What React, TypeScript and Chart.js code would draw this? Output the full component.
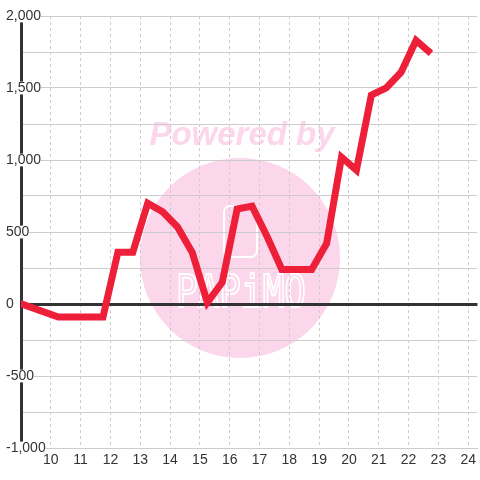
import React, { useEffect, useRef } from "react";
import { Chart, registerables } from "chart.js";

Chart.register(...registerables);

const xValues = [8.75, 10.25, 11.75, 12.25, 12.75, 13.25, 13.75, 14.25, 14.75, 15.25, 15.75, 16.25, 16.75, 17.25, 17.75, 18.25, 18.75, 19.25, 19.75, 20.25, 20.75, 21.25, 21.75, 22.25, 22.75];
const yValues = [20, -90, -90, 360, 360, 700, 640, 535, 355, 10, 150, 660, 680, 470, 240, 240, 240, 420, 1020, 930, 1450, 1500, 1610, 1830, 1740];

const xMin = 9;
const xMax = 24.31;
const yMin = -1000;
const yMax = 2000;
const yStep = 250;
const yLabelStep = 500;

const watermark = {
  id: "watermark",
  beforeDraw(chart: any) {
    const ctx = chart.ctx;
    ctx.save();
    ctx.fillStyle = "#fcd6ea";
    ctx.beginPath();
    ctx.arc(240, 258, 100, 0, Math.PI * 2);
    ctx.fill();
    ctx.font = 'italic bold 33px "Liberation Sans", Arial, sans-serif';
    ctx.textAlign = "center";
    ctx.textBaseline = "alphabetic";
    ctx.fillText("Powered by", 242, 145);
    ctx.strokeStyle = "#ffffff";
    ctx.lineWidth = 2;
    ctx.beginPath();
    (ctx as any).roundRect(224, 206, 33, 51, 6);
    ctx.stroke();
    ctx.lineWidth = 1.6;
    ctx.translate(241, 307);
    ctx.scale(1, 1.25);
    ctx.font = '36px "DejaVu Sans Mono", monospace';
    ctx.strokeText("PAPiMO", 0, 0);
    ctx.restore();
  },
};

export default function App() {
  const ref = useRef<HTMLCanvasElement | null>(null);
  useEffect(() => {
    if (!ref.current) return;
    const chart = new Chart(ref.current, {
      type: "line",
      data: {
        datasets: [
          {
            data: xValues.map((x, i) => ({ x, y: yValues[i] })),
            borderColor: "#ee2039",
            borderWidth: 7,
            pointRadius: 0,
            tension: 0,
            fill: false,
          },
        ],
      },
      options: {
        animation: false,
        responsive: true,
        maintainAspectRatio: false,
        layout: { padding: { top: 16, left: 0, right: 0, bottom: 0 } },
        plugins: { legend: { display: false }, tooltip: { enabled: false } },
        scales: {
          x: {
            type: "linear",
            min: xMin,
            max: xMax,
            afterFit: (s: any) => {
              s.height = 32;
            },
            ticks: {
              stepSize: 1,
              includeBounds: false,
              padding: 4,
              color: "#333",
              font: { family: '"Liberation Sans", Arial, sans-serif', size: 14 },
              callback: (v: any) => (v === xMin ? "" : String(v)),
              maxRotation: 0,
              autoSkip: false,
            },
            grid: { color: "#cccccc", lineWidth: 1, drawTicks: false },
            border: { color: "#cccccc", width: 1, dash: [3, 3] } as any,
          },
          y: {
            type: "linear",
            min: yMin,
            max: yMax,
            afterFit: (s: any) => {
              s.width = 21;
            },
            ticks: {
              stepSize: yStep,
              mirror: true,
              padding: -15,
              color: "#333",
              font: { family: '"Liberation Sans", Arial, sans-serif', size: 14 },
              showLabelBackdrop: true,
              backdropColor: "#ffffff",
              backdropPadding: { top: -2, bottom: -2, left: 0, right: 0 },
              callback: (v: any) => (v % yLabelStep === 0 ? Number(v).toLocaleString("en-US") : ""),
            } as any,
            grid: {
              drawTicks: false,
              color: (c: any) => (c.tick && c.tick.value === 0 ? "#333333" : "#cccccc"),
              lineWidth: (c: any) => (c.tick && c.tick.value === 0 ? 3 : 1),
            },
            border: { color: "#333333", width: 3 },
          },
        },
      },
      plugins: [watermark],
    });
    return () => chart.destroy();
  }, []);
  return (
    <div style={{ position: "fixed", left: 0, top: 0, width: 480, height: 480 }}>
      <canvas ref={ref} />
    </div>
  );
}
